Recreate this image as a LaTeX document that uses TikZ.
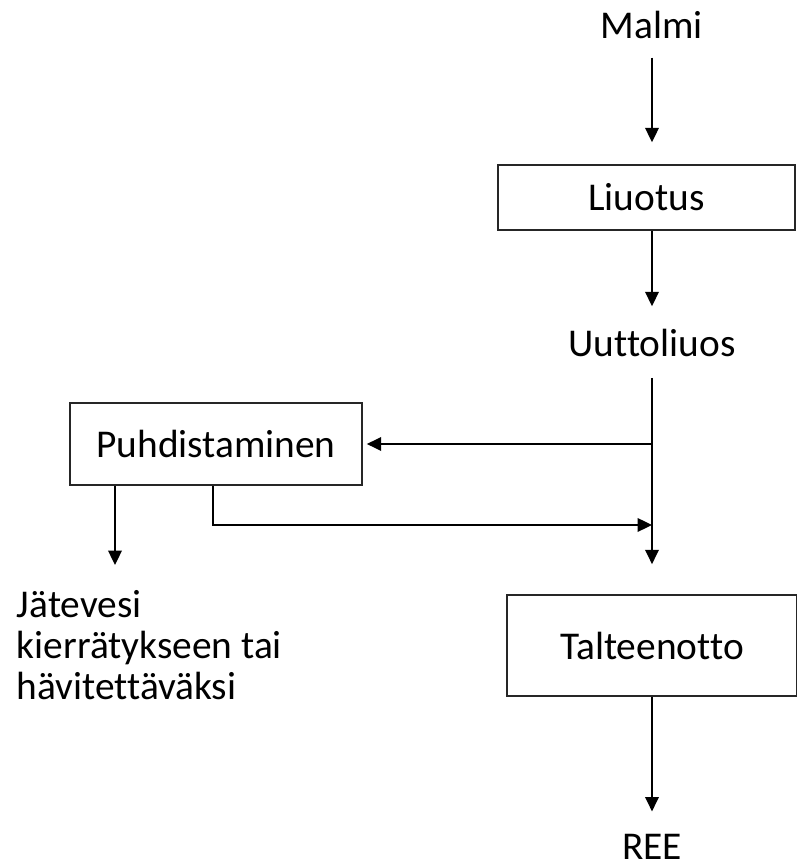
\documentclass[tikz,border=0pt]{standalone}
\usepackage{fontspec}
\setmainfont[Ligatures={NoCommon}]{Carlito}
\usetikzlibrary{arrows.meta,positioning,calc}

\begin{document}
\begin{tikzpicture}[font=\fontsize{28}{29}\selectfont,
  stagebox/.style={rectangle,draw=black!85,line width=1.2pt,inner sep=0pt},
  flowline/.style={line width=1.2pt,-{Triangle[width=0.34cm,length=0.36cm]}}]

\useasboundingbox (0,0) rectangle (19.925,21.7);

\node (malmi) at (16.3,21.08) {Malmi};
\node[stagebox,minimum width=7.43cm,minimum height=1.625cm] (liuotus) at (16.16,16.76) {Liuotus};
\node (uutto) at (16.3,13.125) {Uuttoliuos};
\node[stagebox,minimum width=7.3cm,minimum height=2.05cm] (puhd) at (5.4,10.6) {Puhdistaminen};
\node[stagebox,minimum width=7.25cm,minimum height=2.525cm] (talteen) at (16.3,5.5625) {Talteenotto};
\node (ree) at (16.3,0.525) {REE};
\node[anchor=west,align=left] (jate) at (0.3,5.575) {Jätevesi\\kierrätykseen tai\\hävitettäväksi};

\coordinate (paluu) at (16.3,8.575);
\coordinate (jatepaa) at (2.875,7.575);

\draw[flowline,shorten <=0.35cm,shorten >=0.55cm] (malmi.south) -- (malmi |- liuotus.north);
\draw[flowline,shorten >=0.45cm] (uutto |- liuotus.south) -- (uutto.north);
\draw[flowline,shorten <=0.4cm,shorten >=0.75cm] (uutto) -- (talteen);
\draw[flowline,shorten >=0.1cm] (uutto |- puhd.east) -- (puhd.east);
\draw[flowline] ([xshift=-0.075cm]puhd.south) |- (paluu);
\draw[flowline] (puhd.south west -| jatepaa) -- (jatepaa);
\draw[flowline,shorten >=0.45cm] (talteen) -- (ree);
%\draw[flowline] (talteen.east) -- ++(1,0);

\end{tikzpicture}
\end{document}
